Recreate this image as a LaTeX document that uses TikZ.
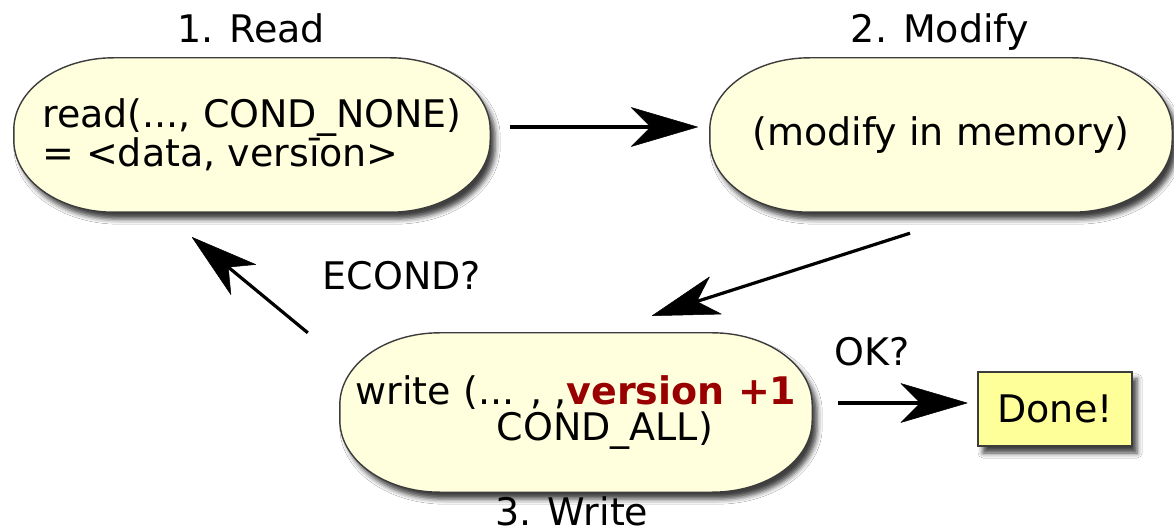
\documentclass[tikz,border=0pt]{standalone}
\usepackage{fontspec}
\setmainfont{DejaVu Sans}
\usetikzlibrary{arrows.meta,calc,backgrounds,shadows.blur}
\definecolor{nodefill}{RGB}{255,255,221}
\definecolor{donefill}{RGB}{255,255,153}
\definecolor{darkred}{RGB}{153,0,0}
\definecolor{edgegray}{RGB}{60,60,60}
\newcommand\capsulepath[3]{([xshift=#2]#1.north west) -- ([xshift=-#2]#1.north east) arc[start angle=90,end angle=0,x radius=#2,y radius=#3] -- ([yshift=#3]#1.south east) arc[start angle=0,end angle=-90,x radius=#2,y radius=#3] -- ([xshift=#2]#1.south west) arc[start angle=270,end angle=180,x radius=#2,y radius=#3] -- ([yshift=-#3]#1.north west) arc[start angle=180,end angle=90,x radius=#2,y radius=#3] -- cycle}
\tikzset{
  txt/.style={font=\fontsize{38}{36}\selectfont, inner sep=0pt},
  stage/.style={txt, align=left},
  capsule/.style={fill=nodefill, draw=edgegray, line width=1.4pt,
    blur shadow={shadow xshift=5pt, shadow yshift=-7pt, shadow blur radius=5pt, shadow opacity=75}},
  donebox/.style={txt, fill=donefill, draw=edgegray, line width=1.2pt,
    minimum width=154pt, minimum height=74pt,
    blur shadow={shadow xshift=5pt, shadow yshift=-7pt, shadow blur radius=5pt, shadow opacity=75}},
  arr/.style={draw=black, line width=3.2pt,
    -{Stealth[length=68pt,width=40pt,inset=20pt,line width=0.5pt,fill=black,round=false]}},
}
\begin{document}
\begin{tikzpicture}[x=1pt,y=1pt]
\useasboundingbox (0,0) rectangle (1174,530);
% stage nodes
\node[stage, minimum width=476pt, minimum height=154pt] (r) at (252,395)
  {read(..., COND\_NONE)\\= <data, versīon>};
\node[stage, minimum width=462pt, minimum height=154pt] (m) at (941,395)
  {(modify in memory)};
\node[stage, minimum width=472pt, minimum height=159pt] (w) at (576,117.5)
  {write (... , ,\textcolor{darkred}{\bfseries version +1}\\\hspace*{141pt}COND\_ALL)};
\node[donebox] (d) at (1055,121) {Done!};
% labels
\node[txt, anchor=base] (lr) at (251,487) {1. Read};
\node[txt, anchor=base] (lm) at (940,487) {2. Modify};
\node[txt, anchor=base] (lw) at (572,5) {3. Write};
\node[txt, anchor=base] (le) at (402,240) {ECOND?};
\node[txt, anchor=base] (lo) at (872,164) {OK?};
% capsules behind
\begin{pgfonlayer}{background}
\fill[white] (0,0) rectangle (1174,530);
\path[capsule] \capsulepath{r}{100pt}{72pt};
\path[capsule] \capsulepath{m}{100pt}{72pt};
\path[capsule] \capsulepath{w}{100pt}{72pt};
\end{pgfonlayer}
% connectors
\draw[arr] ([xshift=20pt,yshift=8pt]r.east) -- ([xshift=-12pt,yshift=8pt]m.west);
\draw[arr] ([xshift=-31pt,yshift=-21pt]m.south) -- ([xshift=76pt,yshift=17pt]w.north);
\draw[arr] ([xshift=-32pt]w.north west) -- ([xshift=-60pt,yshift=-25pt]r.south);
\draw[arr] ([xshift=26pt,yshift=9.5pt]w.east) -- ([xshift=-10pt,yshift=6pt]d.west);
\end{tikzpicture}
\end{document}
